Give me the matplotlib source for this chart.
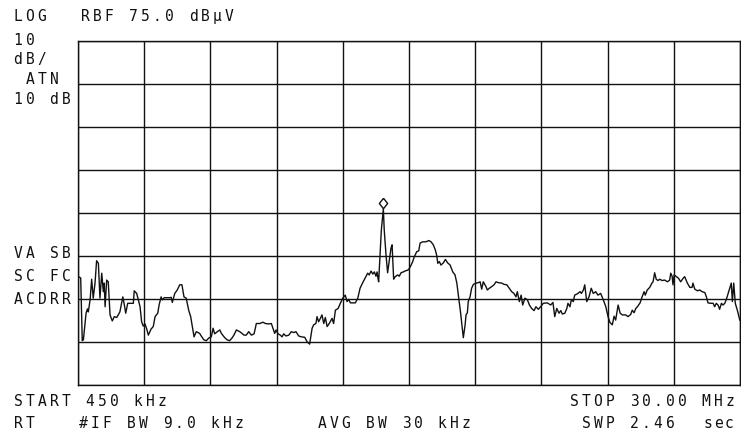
import numpy as np
import matplotlib
matplotlib.use('Agg')
import matplotlib.pyplot as plt
from matplotlib.transforms import offset_copy

# sweep settings
start_mhz = 0.45
stop_mhz = 30.0
ref_level = 75.0      # dBuV at top graticule line
db_per_div = 10
n_xdiv = 10
n_ydiv = 8

# trace (MHz, dBuV)
freq_mhz = [
    0.46, 0.57, 0.64, 0.69, 0.81, 0.87, 0.91, 0.99, 1.06, 1.13, 1.21, 1.28, 1.36, 1.43, 1.51, 1.58,
    1.62, 1.66, 1.73, 1.80, 1.88, 1.98, 2.07, 2.18, 2.32, 2.45, 2.52, 2.58, 2.67, 2.92, 2.96, 3.07,
    3.22, 3.29, 3.36, 3.44, 3.52, 3.59, 3.71, 3.81, 3.89, 4.01, 4.07, 4.16, 4.21, 4.30, 4.56, 4.61,
    4.66, 4.77, 4.88, 4.99, 5.09, 5.18, 5.28, 5.39, 5.48, 5.54, 5.63, 5.73, 5.88, 5.95, 6.07, 6.18,
    6.28, 6.40, 6.48, 6.55, 6.67, 6.78, 6.85, 7.00, 7.11, 7.22, 7.32, 7.41, 7.52, 7.67, 7.77, 7.86,
    7.96, 8.07, 8.19, 8.31, 8.41, 8.56, 8.71, 8.81, 8.96, 9.08, 9.15, 9.23, 9.29, 9.38, 9.48, 9.56,
    9.63, 9.73, 9.86, 9.97, 10.08, 10.18, 10.30, 10.42, 10.57, 10.67, 10.79, 10.90, 10.97, 11.07,
    11.12, 11.19, 11.27, 11.34, 11.42, 11.49, 11.57, 11.64, 11.71, 11.79, 11.86, 11.94, 12.06, 12.16,
    12.27, 12.38, 12.46, 12.53, 12.61, 12.83, 12.94, 13.04, 13.16, 13.28, 13.38, 13.45, 13.53, 13.61,
    13.68, 13.75, 13.80, 13.84, 13.87, 13.93, 13.99, 14.08, 14.12, 14.20, 14.27, 14.35, 14.42, 14.47,
    14.54, 14.61, 14.72, 14.79, 14.87, 14.97, 15.09, 15.17, 15.24, 15.32, 15.39, 15.46, 15.57, 15.66,
    15.72, 15.84, 15.98, 16.11, 16.21, 16.31, 16.40, 16.46, 16.51, 16.58, 16.65, 16.76, 16.85, 16.95,
    17.06, 17.18, 17.28, 17.36, 17.43, 17.53, 17.65, 17.73, 17.77, 17.83, 17.87, 17.95, 18.02, 18.10,
    18.22, 18.32, 18.40, 18.47, 18.54, 18.66, 18.72, 18.81, 18.92, 19.02, 19.11, 19.21, 19.36, 19.47,
    19.59, 19.70, 19.81, 19.91, 20.00, 20.06, 20.15, 20.23, 20.30, 20.40, 20.51, 20.60, 20.70, 20.81,
    20.89, 21.00, 21.10, 21.22, 21.40, 21.55, 21.65, 21.73, 21.82, 21.92, 22.00, 22.07, 22.18, 22.27,
    22.32, 22.41, 22.47, 22.56, 22.62, 22.74, 22.86, 22.92, 23.01, 23.07, 23.16, 23.26, 23.36, 23.45,
    23.56, 23.66, 23.78, 23.90, 24.01, 24.11, 24.20, 24.30, 24.38, 24.45, 24.56, 24.65, 24.75, 24.90,
    25.00, 25.12, 25.19, 25.27, 25.35, 25.42, 25.54, 25.63, 25.72, 25.77, 25.86, 25.97, 26.07, 26.12,
    26.19, 26.26, 26.34, 26.42, 26.52, 26.64, 26.76, 26.86, 26.91, 26.97, 27.01, 27.06, 27.16, 27.26,
    27.35, 27.46, 27.53, 27.65, 27.76, 27.86, 27.90, 27.98, 28.10, 28.20, 28.31, 28.43, 28.50, 28.57,
    28.69, 28.80, 28.87, 28.94, 29.02, 29.09, 29.17, 29.24, 29.32, 29.39, 29.47, 29.54, 29.61, 29.66,
    29.72, 29.79, 29.88, 29.99,
]
level_dbuv = [
    20.2, 19.9, 5.3, 5.5, 11.7, 12.7, 12.0, 14.8, 19.6, 15.2, 18.7, 23.9, 23.3, 15.2, 21.0, 16.7,
    18.7, 13.2, 19.4, 19.0, 11.3, 9.9, 10.9, 10.7, 12.0, 15.5, 13.6, 11.7, 14.0, 14.0, 16.9, 16.3,
    13.2, 9.7, 8.7, 9.2, 8.0, 6.6, 8.0, 8.6, 10.9, 11.7, 13.6, 15.5, 14.8, 15.3, 15.3, 15.4,
    14.2, 16.3, 17.1, 18.3, 18.3, 15.5, 15.2, 12.4, 10.9, 9.0, 6.2, 7.4, 7.0, 6.4, 5.5, 5.3,
    5.9, 6.2, 8.2, 6.9, 7.4, 7.8, 7.0, 6.0, 5.5, 5.3, 5.9, 6.6, 7.8, 7.4, 7.0, 6.6,
    6.6, 7.4, 6.6, 6.9, 9.3, 9.3, 9.6, 9.3, 9.2, 9.3, 8.2, 7.0, 7.8, 6.9, 6.6, 6.2,
    6.9, 6.4, 6.6, 7.4, 7.2, 7.4, 6.4, 6.2, 6.1, 5.1, 4.5, 8.2, 9.0, 9.3,
    10.9, 9.7, 10.5, 11.3, 9.3, 10.7, 8.6, 9.1, 9.7, 10.5, 9.3, 12.4, 12.8, 14.0,
    15.2, 15.9, 14.4, 14.9, 14.1, 14.1, 15.2, 17.5, 18.8, 20.0, 21.0, 20.6, 21.5, 20.8,
    21.3, 20.3, 21.3, 19.8, 19.0, 24.8, 31.0, 36.0, 31.0, 25.2, 21.1, 24.1, 26.8, 27.6,
    19.6, 20.2, 20.6, 20.3, 21.1, 21.3, 21.6, 21.7, 22.1, 22.9, 23.7, 24.8, 26.0, 26.2,
    28.0, 28.3, 28.3, 28.6, 28.3, 27.6, 26.4, 25.2, 23.3, 23.7, 22.9, 23.4, 24.2, 23.4,
    22.9, 21.3, 20.6, 18.7, 15.9, 11.7, 6.0, 9.0, 11.3, 11.8, 14.4, 15.5, 17.5, 18.4,
    18.7, 18.8, 19.0, 17.3, 19.0, 17.9, 17.1, 17.5, 17.9, 18.3, 19.0, 18.8, 18.7, 18.4,
    18.3, 17.5, 16.7, 16.3, 15.5, 16.7, 14.4, 15.9, 13.6, 15.2, 14.8, 13.6, 12.8, 12.3,
    13.2, 12.6, 13.2, 14.0, 14.1, 13.6, 14.2, 10.9, 12.8, 11.7, 12.3, 11.5, 11.7, 12.8,
    14.0, 13.2, 14.8, 14.4, 15.9, 16.2, 16.7, 16.3, 17.1, 18.3, 14.4, 15.5, 17.5, 16.3,
    16.7, 15.9, 16.3, 14.8, 13.2, 10.9, 9.5, 9.0, 11.0, 10.1, 13.6, 11.7, 11.3, 11.3,
    10.9, 11.4, 12.4, 11.8, 12.8, 13.2, 14.1, 15.5, 16.7, 15.9, 17.1, 17.7, 18.7, 19.0,
    21.1, 19.6, 19.3, 19.6, 19.3, 19.4, 19.0, 19.4, 21.0, 20.3, 18.3, 20.6, 20.2, 19.8,
    19.0, 19.8, 20.2, 18.7, 17.7, 17.7, 18.7, 17.3, 16.9, 17.1, 16.7, 16.5, 15.5, 14.1,
    14.0, 14.0, 13.2, 14.0, 13.6, 12.6, 14.0, 13.6, 14.0, 14.9, 16.3, 17.5, 18.7, 14.4,
    18.7, 14.0, 12.4, 10.1,
]

# annotation texts
title_text = ['LOG', 'RBF 75.0 dBµV']
scale_text = ['10', 'dB/', ' ATN', '10 dB']
status_text = ['VA SB', 'SC FC', 'ACDRR']
footer_row1 = ['START 450 kHz', 'STOP 30.00 MHz']
footer_row2 = ['RT', '#IF BW 9.0 kHz', 'AVG BW 30 kHz', 'SWP 2.46']
sweep_unit = 'sec'

W, H = 741, 440
fig = plt.figure(figsize=(W / 100, H / 100), dpi=100)
ax = fig.add_axes([78 / W, 55 / H, 662 / W, 344 / H])

ink = '#111111'

ax.plot(freq_mhz, level_dbuv, color=ink, lw=1.0)

# marker on the highest point
i_pk = int(np.argmax(level_dbuv))
diamond = [(0, 1), (0.8, 0), (0, -1), (-0.8, 0), (0, 1)]
ax.plot(freq_mhz[i_pk], level_dbuv[i_pk], marker=diamond, ms=7.5,
        mfc='white', mec=ink, mew=1.0, ls='none',
        transform=offset_copy(ax.transData, fig=fig, y=6, units='dots'))

bottom = ref_level - n_ydiv * db_per_div
ax.set_xlim(start_mhz, stop_mhz)
ax.set_ylim(bottom, ref_level)
ax.set_xticks(np.linspace(start_mhz, stop_mhz, n_xdiv + 1))
ax.set_yticks(np.arange(bottom, ref_level + 1, db_per_div))
ax.tick_params(length=0, labelbottom=False, labelleft=False)
ax.grid(True, color=ink, lw=1.0)
for sp in ax.spines.values():
    sp.set_color(ink)
    sp.set_linewidth(1.0)


def hp_text(s, x, y, pitch=12):
    # fixed-pitch text like the analyzer's plotter font; x,y = left edge, baseline in px
    for i, ch in enumerate(s):
        if ch == ' ':
            continue
        fig.text((x + i * pitch + 5) / W, 1 - y / H, ch, ha='center', va='baseline',
                 fontsize=10.5, family='DejaVu Sans Mono', color=ink)


hp_text(title_text[0], 13, 21)
hp_text(title_text[1], 80, 21)
for s, yb in zip(scale_text, [45, 64, 84, 104]):
    hp_text(s, 13, yb)
for s, yb in zip(status_text, [258, 281, 304.5]):
    hp_text(s, 13, yb)

hp_text(footer_row1[0], 13, 406)
hp_text(footer_row1[1], 569, 406)
for s, x in zip(footer_row2, [13, 78, 317, 581]):
    hp_text(s, x, 428)
hp_text(sweep_unit, 703, 428, pitch=10.5)

fig.savefig('out.png', dpi=100)
